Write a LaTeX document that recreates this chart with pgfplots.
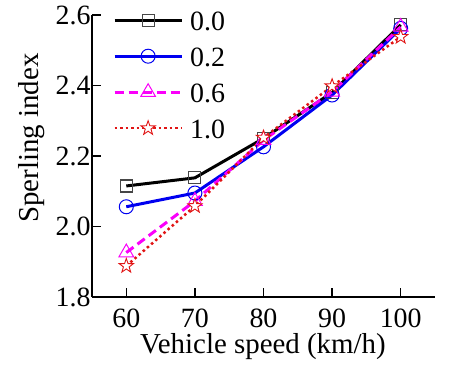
\documentclass[border=0pt]{standalone}
\usepackage{fontspec}
\setmainfont{Liberation Serif}
\usepackage{pgfplots}
\pgfplotsset{compat=1.18}
\definecolor{mkgray}{RGB}{70,70,70}
\definecolor{myred}{RGB}{225,20,20}
\definecolor{mymag}{RGB}{250,0,250}
\definecolor{myblue}{RGB}{0,0,240}
\pgfdeclareplotmark{ostar}{%
  \pgfpathmoveto{\pgfpointpolar{90}{\pgfplotmarksize}}%
  \pgfpathlineto{\pgfpointpolar{126}{0.4\pgfplotmarksize}}%
  \pgfpathlineto{\pgfpointpolar{162}{\pgfplotmarksize}}%
  \pgfpathlineto{\pgfpointpolar{198}{0.4\pgfplotmarksize}}%
  \pgfpathlineto{\pgfpointpolar{234}{\pgfplotmarksize}}%
  \pgfpathlineto{\pgfpointpolar{270}{0.4\pgfplotmarksize}}%
  \pgfpathlineto{\pgfpointpolar{306}{\pgfplotmarksize}}%
  \pgfpathlineto{\pgfpointpolar{342}{0.4\pgfplotmarksize}}%
  \pgfpathlineto{\pgfpointpolar{18}{\pgfplotmarksize}}%
  \pgfpathlineto{\pgfpointpolar{54}{0.4\pgfplotmarksize}}%
  \pgfpathclose
  \pgfusepathqfillstroke
}
\begin{document}
\begin{tikzpicture}[x=1bp,y=1bp]
\begin{axis}[
  at={(0,0)}, anchor=south west,
  scale only axis, width=343bp, height=282bp,
  xmin=55, xmax=105, ymin=1.8, ymax=2.6,
  axis x line=bottom, axis y line=left,
  axis line style={line width=1.8bp, -},
  every tick/.style={line width=1.5bp, black},
  tick align=inside,
  major tick length=9bp,
  xtick={60,70,80,90,100},
  ytick={1.8,2.0,2.2,2.4,2.6},
  yticklabel style={/pgf/number format/fixed, /pgf/number format/fixed zerofill, /pgf/number format/precision=1, anchor=east, xshift=2bp},
  /pgf/number format/assume math mode=true,
  tick label style={font=\fontsize{28}{30}\selectfont},
  label style={font=\fontsize{29}{32}\selectfont},
  xlabel={Vehicle speed (km/h)},
  ylabel={Sperling index},
  xlabel style={at={(axis description cs:0.4985,-0.1986)}, anchor=base},
  ylabel style={at={(axis description cs:-0.1574,0.564)}, anchor=base},
  xticklabel style={anchor=base, yshift=-30bp},
  legend style={draw=none, fill=none, inner sep=0pt, at={(axis description cs:0.061,1)}, anchor=north west,
    yshift=5bp, font=\fontsize{28}{30}\selectfont,
    row sep=16bp, column sep=7bp,
    nodes={inner sep=0pt, text height=20bp, text depth=0bp}},
  legend cell align=left,
  legend image code/.code={
    \draw[#1,mark=none] (0bp,0bp) -- (67bp,0bp);
    \draw[#1,solid] plot coordinates {(33.5bp,0bp)};
  },
  clip=false,
]
\addplot[black, line width=3bp, mark=square, mark size=6bp,
  mark options={draw=mkgray, fill=white, solid, line width=1.1bp}]
  coordinates {(60,2.115) (70,2.138) (80,2.250) (90,2.380) (100,2.572)};
\addlegendentry{0.0}
\addplot[myblue, line width=3bp, mark=o, mark size=7bp,
  mark options={draw=myblue, fill=white, solid, line width=1bp}]
  coordinates {(60,2.056) (70,2.095) (80,2.226) (90,2.373) (100,2.562)};
\addlegendentry{0.2}
\addplot[mymag, line width=3bp, dash pattern=on 9bp off 5bp, mark=triangle, mark size=8.5bp,
  mark options={draw=mymag, fill=white, solid, line width=1bp}]
  coordinates {(60,1.926) (70,2.072) (80,2.245) (90,2.382) (100,2.566)};
\addlegendentry{0.6}
\addplot[myred, line width=2.5bp, dash pattern=on 2.5bp off 3bp, mark=ostar, mark size=7.5bp,
  mark options={draw=myred, fill=white, solid, line width=0.9bp}]
  coordinates {(60,1.888) (70,2.058) (80,2.252) (90,2.398) (100,2.538)};
\addlegendentry{1.0}
\end{axis}
\pgfresetboundingbox
\useasboundingbox (-92bp,-69bp) rectangle (369bp,297bp);
\end{tikzpicture}
\end{document}
